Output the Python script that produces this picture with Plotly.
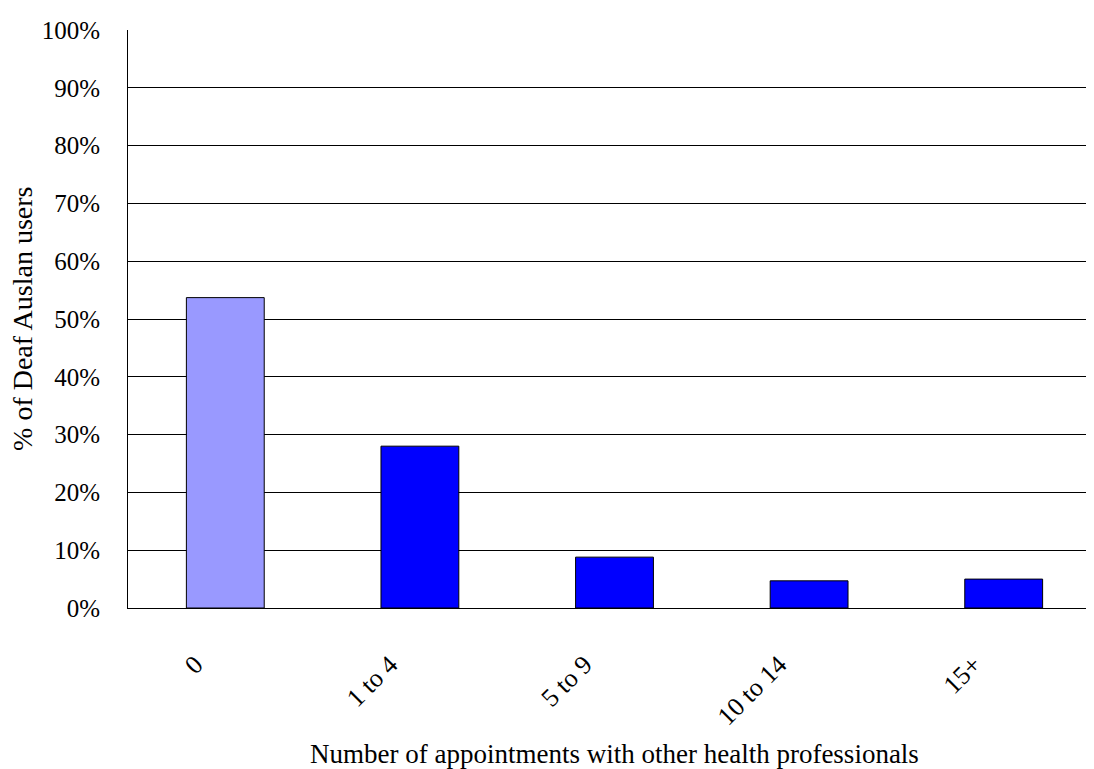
import plotly.graph_objects as go

categories = ["0", "1 to 4", "5 to 9", "10 to 14", "15+"]
values = [53.7, 28.0, 8.8, 4.7, 5.0]
colors = ["#9999FF", "#0000FF", "#0000FF", "#0000FF", "#0000FF"]
y_ticks = [0, 10, 20, 30, 40, 50, 60, 70, 80, 90, 100]
y_labels = [f"{v}%" for v in y_ticks]
x_title = "Number of appointments with other health professionals"
y_title = "% of Deaf Auslan users"

FONT = "Liberation Serif, Times New Roman, serif"

fig = go.Figure(go.Bar(
    x=categories, y=values,
    marker=dict(color=colors, line=dict(color="black", width=1)),
    hoverinfo="skip",
))

fig.update_layout(
    width=1094, height=769,
    margin=dict(l=120, r=1, t=22, b=169),
    paper_bgcolor="white", plot_bgcolor="white",
    bargap=0.6,
    showlegend=False,
    font=dict(family=FONT, color="black", size=25),
    annotations=[
        dict(text=x_title, xref="paper", yref="paper", x=0.5, y=-0.252,
             xanchor="center", yanchor="middle", showarrow=False,
             font=dict(family=FONT, size=27, color="black")),
        dict(text=y_title, xref="paper", yref="paper", x=-0.109, y=0.5,
             xanchor="center", yanchor="middle", showarrow=False, textangle=-90,
             font=dict(family=FONT, size=28, color="black")),
    ],
)
fig.update_xaxes(
    tickangle=-45, tickfont=dict(family=FONT, size=26),
    showline=True, linecolor="black", linewidth=1,
    ticks="", ticklen=0, ticklabelstandoff=30, ticklabelshift=-30,
)
fig.update_yaxes(
    range=[0, 100], tickvals=y_ticks, ticktext=y_labels,
    tickfont=dict(family=FONT, size=25),
    showgrid=True, gridcolor="black", gridwidth=1,
    showline=True, linecolor="black", linewidth=1,
    ticks="", ticklen=0, ticklabelstandoff=22, zeroline=False,
)

fig.write_html("out.html")
